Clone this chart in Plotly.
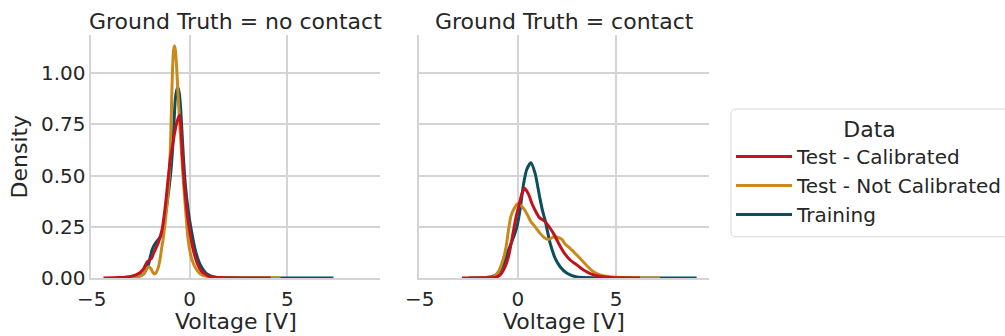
import plotly.graph_objects as go

# ---- data: KDE curves of measured voltage, per ground-truth class ----
panel_titles = ["Ground Truth = no contact", "Ground Truth = contact"]
series_names = ["Test - Calibrated", "Test - Not Calibrated", "Training"]
x_title = "Voltage [V]"
y_title = "Density"
x_tick_vals = [-5, 0, 5]
x_tick_text = ["\u22125", "0", "5"]
y_tick_vals = [0.0, 0.25, 0.5, 0.75, 1.0]

# no contact
nc_cal_v = [-4.4, -3.6, -3.0, -2.6, -2.35, -2.17, -2.05, -1.95, -1.84, -1.7, -1.58, -1.41,
            -1.24, -1.1, -0.98, -0.88, -0.78, -0.65, -0.51, -0.44, -0.37, -0.3, -0.2, -0.1,
            0.0, 0.15, 0.38, 0.63, 1.06, 1.8, 3.0, 4.15]
nc_cal_d = [0.0, 0.002, 0.008, 0.022, 0.045, 0.078, 0.088, 0.095, 0.12, 0.15, 0.177, 0.234,
            0.35, 0.48, 0.585, 0.64, 0.70, 0.76, 0.796, 0.74, 0.6, 0.5, 0.39, 0.3,
            0.234, 0.153, 0.075, 0.031, 0.006, 0.001, 0.0, 0.0]

nc_raw_v = [-3.2, -2.8, -2.5, -2.35, -2.2, -2.09, -1.97, -1.88, -1.79, -1.7, -1.61, -1.52,
            -1.44, -1.35, -1.27, -1.18, -1.1, -1.03, -0.97, -0.92, -0.87, -0.82, -0.77, -0.72,
            -0.66, -0.59, -0.5, -0.4, -0.3, -0.2, -0.1, 0.0, 0.12, 0.3, 0.55, 1.0, 1.6, 3.0, 4.65]
nc_raw_d = [0.0, 0.003, 0.01, 0.02, 0.045, 0.055, 0.045, 0.028, 0.02, 0.028, 0.047, 0.085,
            0.137, 0.19, 0.25, 0.33, 0.414, 0.52, 0.66, 0.85, 1.02, 1.11, 1.135, 1.11,
            1.03, 0.9, 0.75, 0.6, 0.45, 0.33, 0.21, 0.14, 0.09, 0.05, 0.02, 0.005, 0.001, 0.0, 0.0]

nc_train_v = [-3.6, -3.0, -2.6, -2.35, -2.2, -2.09, -1.92, -1.75, -1.5, -1.33, -1.15, -0.98,
              -0.87, -0.8, -0.73, -0.65, -0.59, -0.52, -0.45, -0.39, -0.32, -0.22, -0.05, 0.12,
              0.29, 0.55, 0.89, 1.31, 2.0, 4.0, 7.35]
nc_train_d = [0.0, 0.003, 0.008, 0.02, 0.045, 0.07, 0.137, 0.17, 0.2, 0.25, 0.365, 0.495,
              0.625, 0.75, 0.87, 0.92, 0.93, 0.9, 0.82, 0.72, 0.6, 0.46, 0.316, 0.218,
              0.137, 0.064, 0.02, 0.004, 0.001, 0.0, 0.0]

# contact
c_cal_v = [-2.85, -2.0, -1.5, -1.15, -0.9, -0.65, -0.48, -0.36, -0.22, -0.09, 0.08, 0.2,
           0.34, 0.54, 0.71, 0.88, 1.1, 1.39, 1.64, 1.81, 2.07, 2.32, 2.66, 3.0, 3.34,
           3.85, 4.53, 5.2, 6.22]
c_cal_d = [0.0, 0.0005, 0.001, 0.003, 0.015, 0.055, 0.104, 0.16, 0.234, 0.3, 0.365, 0.41,
           0.438, 0.41, 0.365, 0.33, 0.295, 0.275, 0.243, 0.218, 0.17, 0.128, 0.088, 0.064, 0.039,
           0.015, 0.004, 0.001, 0.0]

c_raw_v = [-2.2, -1.6, -1.24, -0.99, -0.76, -0.6, -0.48, -0.36, -0.19, 0.02, 0.15, 0.29,
           0.49, 0.66, 0.88, 1.13, 1.39, 1.56, 1.81, 2.0, 2.24, 2.41, 2.66, 2.92, 3.17,
           3.51, 3.85, 4.19, 4.7, 5.2, 6.0, 7.24]
c_raw_d = [0.0, 0.001, 0.006, 0.031, 0.088, 0.153, 0.234, 0.3, 0.34, 0.365, 0.355, 0.34,
           0.308, 0.275, 0.25, 0.218, 0.194, 0.188, 0.2, 0.199, 0.189, 0.165, 0.145, 0.12, 0.095,
           0.06, 0.031, 0.015, 0.006, 0.003, 0.001, 0.0]

c_train_v = [-2.5, -2.0, -1.6, -1.32, -0.99, -0.73, -0.48, -0.22, -0.05, 0.12, 0.29, 0.45,
             0.66, 0.88, 1.1, 1.25, 1.39, 1.64, 1.9, 2.15, 2.5, 3.0, 4.0, 5.0, 9.1]
c_train_d = [0.0, 0.001, 0.003, 0.006, 0.026, 0.072, 0.137, 0.2, 0.25, 0.34, 0.46, 0.53,
             0.563, 0.51, 0.40, 0.33, 0.28, 0.17, 0.096, 0.055, 0.023, 0.005, 0.001, 0.0, 0.0]

colors = {"Test - Calibrated": "#C1121F",
          "Test - Not Calibrated": "#C98A1B",
          "Training": "#0B4F5C"}

W, H = 1005, 336
TXT = "#262626"
GRID = "#d4d4d4"
FONT = "DejaVu Sans"

panels = [
    {"Training": (nc_train_v, nc_train_d),
     "Test - Not Calibrated": (nc_raw_v, nc_raw_d),
     "Test - Calibrated": (nc_cal_v, nc_cal_d)},
    {"Training": (c_train_v, c_train_d),
     "Test - Not Calibrated": (c_raw_v, c_raw_d),
     "Test - Calibrated": (c_cal_v, c_cal_d)},
]

fig = go.Figure()
# draw order: Training at the bottom, calibrated test on top
for p, curves in enumerate(panels):
    xa = "x" if p == 0 else "x2"
    ya = "y" if p == 0 else "y2"
    for name in ["Training", "Test - Not Calibrated", "Test - Calibrated"]:
        v, d = curves[name]
        fig.add_trace(go.Scatter(
            x=v, y=d, mode="lines", name=name, xaxis=xa, yaxis=ya,
            line=dict(color=colors[name], width=3, shape="spline", smoothing=0.6),
            legendgroup=name, showlegend=(p == 0),
            legendrank=series_names.index(name) + 1,
        ))

px_x = lambda px: px / W
px_y = lambda py: 1 - py / H

panel_px = [(91.3, 380), (419.3, 709)]
dom_y = [px_y(278), px_y(35)]
axis_common = dict(
    range=[-5.02, 9.73], tickvals=x_tick_vals, ticktext=x_tick_text,
    showgrid=True, gridcolor=GRID, gridwidth=1.6, zeroline=False,
    showline=True, linecolor=GRID, linewidth=1.6,
    ticks="outside", ticklen=2, tickcolor="rgba(0,0,0,0)",
    tickfont=dict(size=20, color=TXT, family=FONT),
    automargin=False,
)
yaxis_common = dict(
    range=[0, 1.187], tickvals=y_tick_vals, tickformat=".2f",
    showgrid=True, gridcolor=GRID, gridwidth=1.6, zeroline=False,
    showline=True, linecolor=GRID, linewidth=1.6,
    ticks="",
    tickfont=dict(size=20, color=TXT, family=FONT),
    domain=dom_y, automargin=False,
)

fig.update_layout(
    width=W, height=H,
    margin=dict(l=0, r=0, t=0, b=0, autoexpand=False),
    paper_bgcolor="white", plot_bgcolor="white",
    font=dict(family=FONT, color=TXT),
    xaxis=dict(axis_common, domain=[px_x(panel_px[0][0]), px_x(panel_px[0][1])], anchor="y"),
    xaxis2=dict(axis_common, domain=[px_x(panel_px[1][0]), px_x(panel_px[1][1])], anchor="y2"),
    yaxis=dict(yaxis_common, anchor="x"),
    yaxis2=dict(yaxis_common, anchor="x2", matches="y", showticklabels=False),
    showlegend=True,
    legend=dict(
        x=px_x(731), y=px_y(108.5), xanchor="left", yanchor="top",
        bgcolor="rgba(0,0,0,0)", borderwidth=0,
        title=dict(text="Data", side="top center", font=dict(size=22, color=TXT, family=FONT)),
        font=dict(size=20, color=TXT, family=FONT),
        traceorder="normal", itemwidth=56,
    ),
)

# facet titles and axis titles
for title, (a, b) in zip(panel_titles, panel_px):
    fig.add_annotation(text=title, xref="paper", yref="paper",
                       x=px_x((a + b) / 2), y=px_y(21.7), xanchor="center", yanchor="middle",
                       showarrow=False, font=dict(size=22, color=TXT, family=FONT))
    fig.add_annotation(text=x_title, xref="paper", yref="paper",
                       x=px_x((a + b) / 2), y=px_y(321.7), xanchor="center", yanchor="middle",
                       showarrow=False, font=dict(size=22, color=TXT, family=FONT))
fig.add_annotation(text=y_title, xref="paper", yref="paper", textangle=-90,
                   x=px_x(19), y=px_y(156.5), xanchor="center", yanchor="middle",
                   showarrow=False, font=dict(size=22, color=TXT, family=FONT))

# legend frame with rounded corners
x0, x1, y0, y1 = px_x(731), px_x(1012), px_y(236.7), px_y(109)
rx, ry = 5 / W, 5 / H
frame = (f"M{x0 + rx},{y1} L{x1 - rx},{y1} Q{x1},{y1} {x1},{y1 - ry} "
         f"L{x1},{y0 + ry} Q{x1},{y0} {x1 - rx},{y0} L{x0 + rx},{y0} "
         f"Q{x0},{y0} {x0},{y0 + ry} L{x0},{y1 - ry} Q{x0},{y1} {x0 + rx},{y1} Z")
fig.add_shape(type="path", path=frame, xref="paper", yref="paper",
              line=dict(color="#d9d9d9", width=1), fillcolor="white", layer="below")

fig.write_html("out.html")
